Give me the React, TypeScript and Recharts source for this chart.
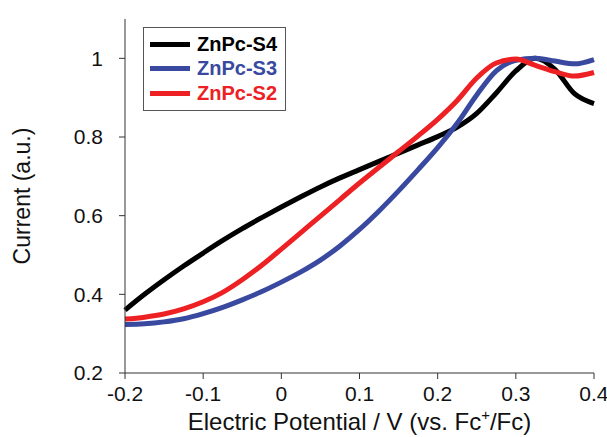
import { LineChart, Line, XAxis, YAxis, Legend, Label } from 'recharts';

const potentials = [
  -0.2, -0.175, -0.15, -0.125, -0.1, -0.075, -0.05, -0.025, 0, 0.025, 0.05, 0.075, 0.1,
  0.125, 0.15, 0.175, 0.2, 0.225, 0.25, 0.275, 0.3, 0.325, 0.35, 0.375, 0.4,
];

const s4 = [
  0.36, 0.4, 0.437, 0.472, 0.505, 0.537, 0.567, 0.595, 0.622, 0.648, 0.673, 0.696, 0.717,
  0.738, 0.759, 0.78, 0.801, 0.825, 0.86, 0.912, 0.968, 1.0, 0.972, 0.91, 0.885,
];

const s3 = [
  0.323, 0.325, 0.33, 0.338, 0.351, 0.367, 0.386, 0.407, 0.431, 0.457, 0.487, 0.523, 0.565,
  0.612, 0.663, 0.717, 0.773, 0.835, 0.907, 0.968, 0.995, 1.0, 0.993, 0.986, 0.997,
];

const s2 = [
  0.337, 0.342, 0.35, 0.363, 0.381, 0.405, 0.437, 0.474, 0.515, 0.557, 0.599, 0.641, 0.683,
  0.723, 0.763, 0.803, 0.845, 0.893, 0.95, 0.988, 0.998, 0.982, 0.966, 0.955, 0.964,
];

const seriesNames = ['ZnPc-S4', 'ZnPc-S3', 'ZnPc-S2'];

const xTicks = [-0.2, -0.1, 0, 0.1, 0.2, 0.3, 0.4];
const yTicks = [0.2, 0.4, 0.6, 0.8, 1];

const FONT = '"Liberation Sans", Arial, sans-serif';
const AXIS = '#333';

const data = potentials.map((x, i) => ({ x, s4: s4[i], s3: s3[i], s2: s2[i] }));

const tickStyle = { fill: '#111', fontSize: 21, fontFamily: FONT };

function LegendBox({ payload }: any) {
  const items = [...(payload || [])].sort(
    (a: any, b: any) => seriesNames.indexOf(a.value) - seriesNames.indexOf(b.value),
  );
  return (
    <div
      style={{
        width: 143,
        height: 84,
        boxSizing: 'border-box',
        border: '1.5px solid #555',
        background: '#fff',
        paddingTop: 4,
        fontFamily: FONT,
      }}
    >
      {items.map((p: any) => (
        <div key={p.value} style={{ display: 'flex', alignItems: 'center', height: 24.5 }}>
          <div style={{ width: 40, height: 5, background: p.color, marginLeft: 6 }} />
          <span style={{ marginLeft: 7, fontWeight: 'bold', fontSize: 20, color: p.color }}>
            {p.value}
          </span>
        </div>
      ))}
    </div>
  );
}

function XTitle({ viewBox }: any) {
  const cx = viewBox.x + viewBox.width / 2;
  return (
    <text x={cx} y={430} textAnchor="middle" fontFamily={FONT} fontSize={24} fill="#111">
      Electric Potential / V (vs. Fc
      <tspan fontSize={15} dy={-10}>+</tspan>
      <tspan dy={10}>/Fc)</tspan>
    </text>
  );
}

export default function App() {
  return (
    <div style={{ position: 'absolute', left: 0, top: 0, background: '#fff' }}>
      <LineChart width={607} height={437} data={data} margin={{ top: 19, right: 13, left: 0, bottom: 0 }}>
        <XAxis
          dataKey="x"
          type="number"
          domain={[-0.2, 0.4]}
          ticks={xTicks}
          tickFormatter={(v) => String(v)}
          height={64}
          tickSize={6}
          tickMargin={7}
          stroke={AXIS}
          tick={tickStyle}
        >
          <Label content={<XTitle />} />
        </XAxis>
        <XAxis
          xAxisId="top"
          dataKey="x"
          type="number"
          orientation="top"
          domain={[-0.2, 0.4]}
          ticks={xTicks}
          tickFormatter={() => ''}
          height={0}
          tickSize={6}
          stroke={AXIS}
        />
        <YAxis
          type="number"
          domain={[0.2, 1.1]}
          ticks={yTicks}
          tickFormatter={(v) => String(v)}
          width={125}
          tickSize={6}
          tickMargin={16}
          stroke={AXIS}
          tick={tickStyle}
        >
          <Label
            value="Current (a.u.)"
            angle={-90}
            position="insideLeft"
            offset={22}
            style={{ fontSize: 23, fontFamily: FONT, fill: '#111', textAnchor: 'middle' }}
          />
        </YAxis>
        <YAxis
          yAxisId="right"
          type="number"
          orientation="right"
          domain={[0.2, 1.1]}
          ticks={yTicks}
          tickFormatter={() => ''}
          width={0}
          tickSize={6}
          stroke={AXIS}
        />
        <Legend
          layout="vertical"
          align="center"
          verticalAlign="middle"
          content={<LegendBox />}
          wrapperStyle={{ left: 143, top: 27, width: 143, height: 84 }}
        />
        <Line
          type="monotone"
          dataKey="s4"
          name="ZnPc-S4"
          stroke="#000000"
          strokeWidth={5}
          dot={false}
          isAnimationActive={false}
        />
        <Line
          type="monotone"
          dataKey="s3"
          name="ZnPc-S3"
          stroke="#3949a0"
          strokeWidth={5}
          dot={false}
          isAnimationActive={false}
        />
        <Line
          type="monotone"
          dataKey="s2"
          name="ZnPc-S2"
          stroke="#ed2024"
          strokeWidth={5}
          dot={false}
          isAnimationActive={false}
        />
      </LineChart>
    </div>
  );
}
